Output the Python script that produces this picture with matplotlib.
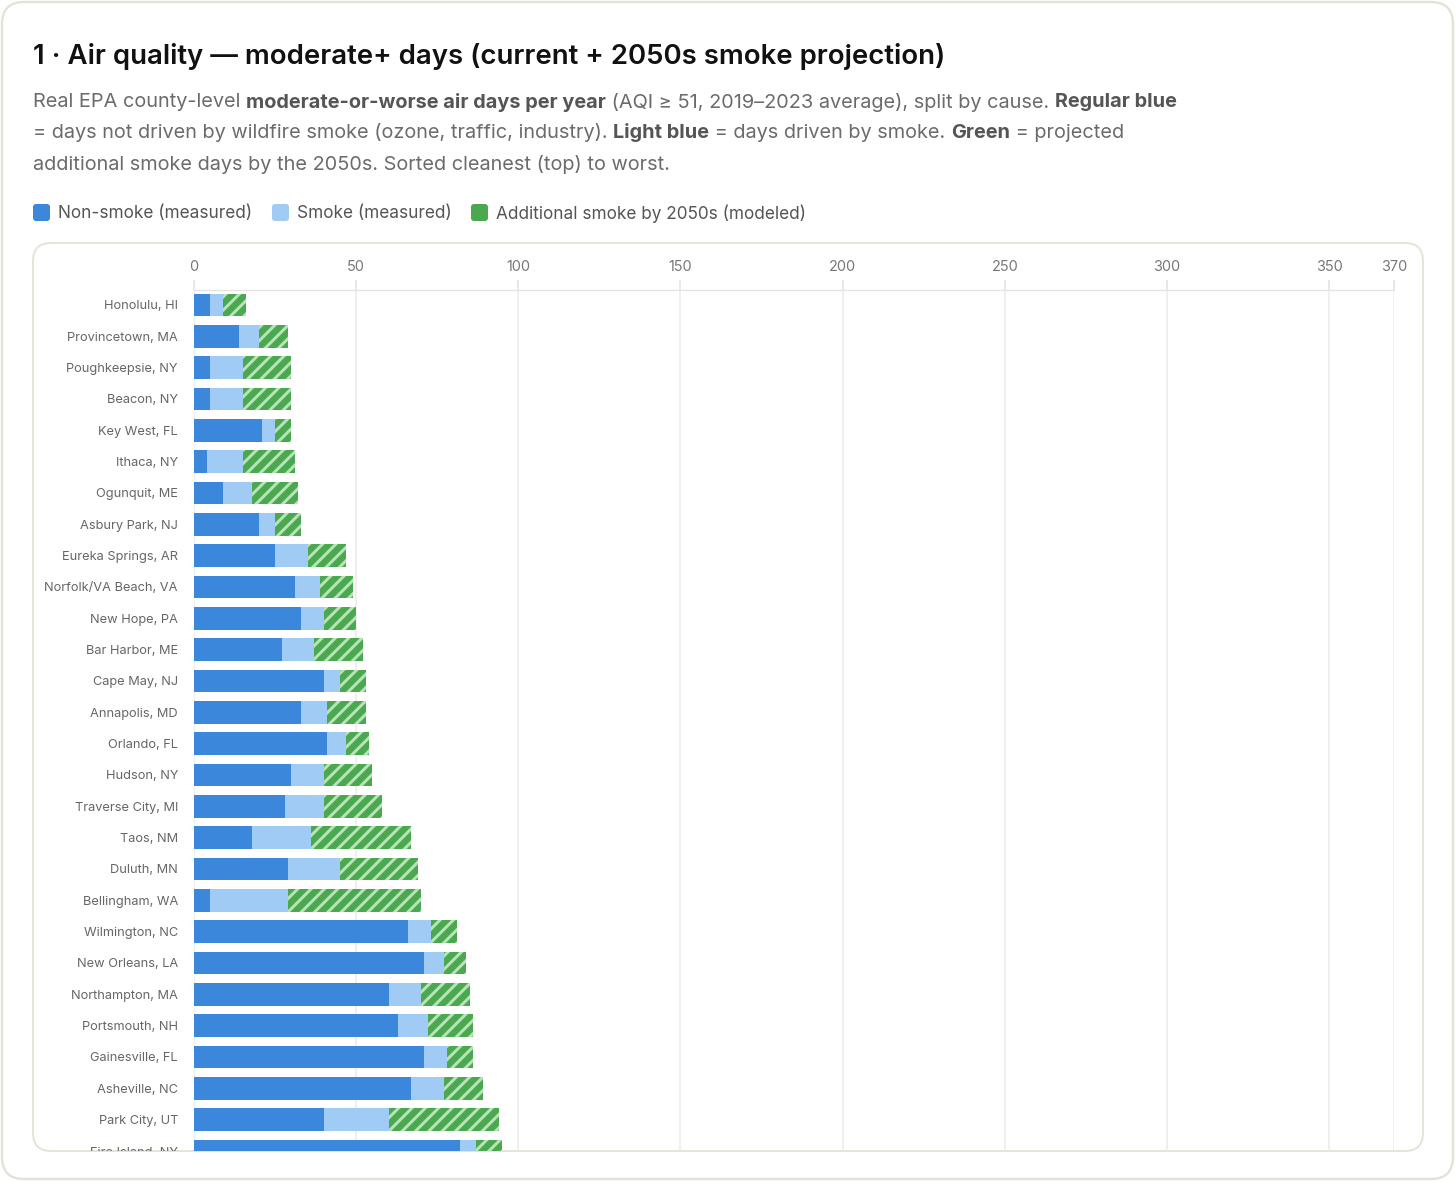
"""Air quality: moderate+ days per year, current split by cause plus 2050s smoke projection."""

import matplotlib
matplotlib.use("Agg")
import matplotlib.pyplot as plt
from matplotlib.patches import FancyBboxPatch
from matplotlib.transforms import IdentityTransform, Bbox, TransformedBbox

W, H, DPI = 1456, 1182, 120
PT = 72 / DPI  # points per pixel

cities = [
    "Honolulu, HI", "Provincetown, MA", "Poughkeepsie, NY", "Beacon, NY",
    "Key West, FL", "Ithaca, NY", "Ogunquit, ME", "Asbury Park, NJ",
    "Eureka Springs, AR", "Norfolk/VA Beach, VA", "New Hope, PA", "Bar Harbor, ME",
    "Cape May, NJ", "Annapolis, MD", "Orlando, FL", "Hudson, NY",
    "Traverse City, MI", "Taos, NM", "Duluth, MN", "Bellingham, WA",
    "Wilmington, NC", "New Orleans, LA", "Northampton, MA", "Portsmouth, NH",
    "Gainesville, FL", "Asheville, NC", "Park City, UT", "Fire Island, NY",
]
non_smoke = [5, 14, 5, 5, 21, 4, 9, 20, 25, 31, 33, 27, 40, 33, 41, 30, 28, 18, 29, 5,
             66, 71, 60, 63, 71, 67, 40, 82]
smoke = [4, 6, 10, 10, 4, 11, 9, 5, 10, 8, 7, 10, 5, 8, 6, 10, 12, 18, 16, 24,
         7, 6, 10, 9, 7, 10, 20, 5]
smoke_2050s = [7, 9, 15, 15, 5, 16, 14, 8, 12, 10, 10, 15, 8, 12, 7, 15, 18, 31, 24, 41,
               8, 7, 15, 14, 8, 12, 34, 8]
x_ticks = [0, 50, 100, 150, 200, 250, 300, 350, 370]

BLUE = "#3a87dc"
LIGHT = "#9fcbf4"
GREEN = "#4aa84f"
STRIPE = "#b8e2b7"

plt.rcParams["font.family"] = ["Inter", "DejaVu Sans"]
plt.rcParams["hatch.linewidth"] = 1.8


def fx(px):
    return px / W


def fy(py):
    return 1 - py / H


def card(x0, y0, x1, y1, r, ec, lw, z):
    # pixel box, top-left origin
    p = FancyBboxPatch((x0, H - y1), x1 - x0, y1 - y0,
                       boxstyle=f"round,pad=0,rounding_size={r}",
                       transform=IdentityTransform(), facecolor="white",
                       edgecolor=ec, linewidth=lw, zorder=z)
    fig.patches.append(p)


def text_w(renderer, s, prop):
    a = renderer.get_text_width_height_descent("x" + s + "x", prop, ismath=False)[0]
    b = renderer.get_text_width_height_descent("xx", prop, ismath=False)[0]
    return a - b


def rich_line(x_px, y_px, parts, size):
    renderer = fig.canvas.get_renderer()
    x = x_px
    for s, bold in parts:
        t = fig.text(fx(x), fy(y_px), s, fontsize=size, va="center", ha="left",
                     fontweight="bold" if bold else "normal",
                     color="#555555" if bold else "#6b6b6b")
        x += text_w(renderer, s, t.get_fontproperties())


fig = plt.figure(figsize=(W / DPI, H / DPI), dpi=DPI, facecolor="white")
card(2, 2, 1453, 1179, 22, "#e4e1d5", 1.4, 0)
card(33, 243, 1423, 1151, 18, "#e6e3d9", 1.2, 1)

fig.text(fx(33), fy(57), "1 · Air quality — moderate+ days (current + 2050s smoke projection)",
         fontsize=27.6 * PT, fontweight="semibold", color="#111111", va="center", ha="left")

SUB = 19.9 * PT
rich_line(33, 102, [("Real EPA county-level ", False),
                    ("moderate-or-worse air days per year", True),
                    (" (AQI ≥ 51, 2019–2023 average), split by cause. ", False),
                    ("Regular blue", True)], SUB)
rich_line(33, 133, [("= days not driven by wildfire smoke (ozone, traffic, industry). ", False),
                    ("Light blue", True), (" = days driven by smoke. ", False),
                    ("Green", True), (" = projected", False)], SUB)
rich_line(33, 164, [("additional smoke days by the 2050s. Sorted cleanest (top) to worst.", False)],
          SUB)

# legend
for sx, label, col in [(33, "Non-smoke (measured)", BLUE),
                       (272, "Smoke (measured)", LIGHT),
                       (471, "Additional smoke by 2050s (modeled)", GREEN)]:
    sq = FancyBboxPatch((sx, H - 221), 17, 17, boxstyle="round,pad=0,rounding_size=3",
                        transform=IdentityTransform(), facecolor=col, edgecolor="none", zorder=3)
    fig.patches.append(sq)
    fig.text(fx(sx + 25), fy(214), label, fontsize=17.2 * PT, color="#555555",
             va="center", ha="left")

ax = fig.add_axes([fx(194), fy(1151), fx(1394) - fx(194), fy(290) - fy(1151)])
ax.set_facecolor("none")
ax.set_zorder(2)

y = list(range(len(cities)))
left2 = [a + b for a, b in zip(non_smoke, smoke)]
ax.barh(y, non_smoke, height=0.73, color=BLUE, linewidth=0, zorder=2)
ax.barh(y, smoke, left=non_smoke, height=0.73, color=LIGHT, linewidth=0, zorder=2)
ax.barh(y, smoke_2050s, left=left2, height=0.73, color=GREEN, edgecolor=STRIPE,
        hatch="///", linewidth=0, zorder=2)

ax.set_xlim(0, 370)
ax.set_ylim(26.93, -0.477)
ax.xaxis.tick_top()
ax.set_xticks(x_ticks)
ax.tick_params(axis="x", length=10 * PT, width=1, color="#e4e4e4", pad=6 * PT,
               labelsize=14.5 * PT, labelcolor="#777777")
ax.set_yticks(y, cities)
ax.tick_params(axis="y", length=0, pad=16 * PT, labelsize=12.8 * PT, labelcolor="#666666")
for lbl in ax.get_yticklabels():
    lbl.set_va("center_baseline")
ax.grid(axis="x", color="#ececec", linewidth=1, zorder=0)
ax.set_axisbelow(True)
for side in ["left", "right", "bottom"]:
    ax.spines[side].set_visible(False)
ax.spines["top"].set_color("#e4e4e4")

# the chart panel scrolls: cut row labels at the panel's bottom edge
clip = TransformedBbox(Bbox([[0, fy(1151)], [1, 1]]), fig.transFigure)
for lbl in ax.get_yticklabels():
    lbl.set_clip_on(True)
    lbl.set_clip_box(clip)

fig.savefig("out.png", dpi=DPI, facecolor="white")
